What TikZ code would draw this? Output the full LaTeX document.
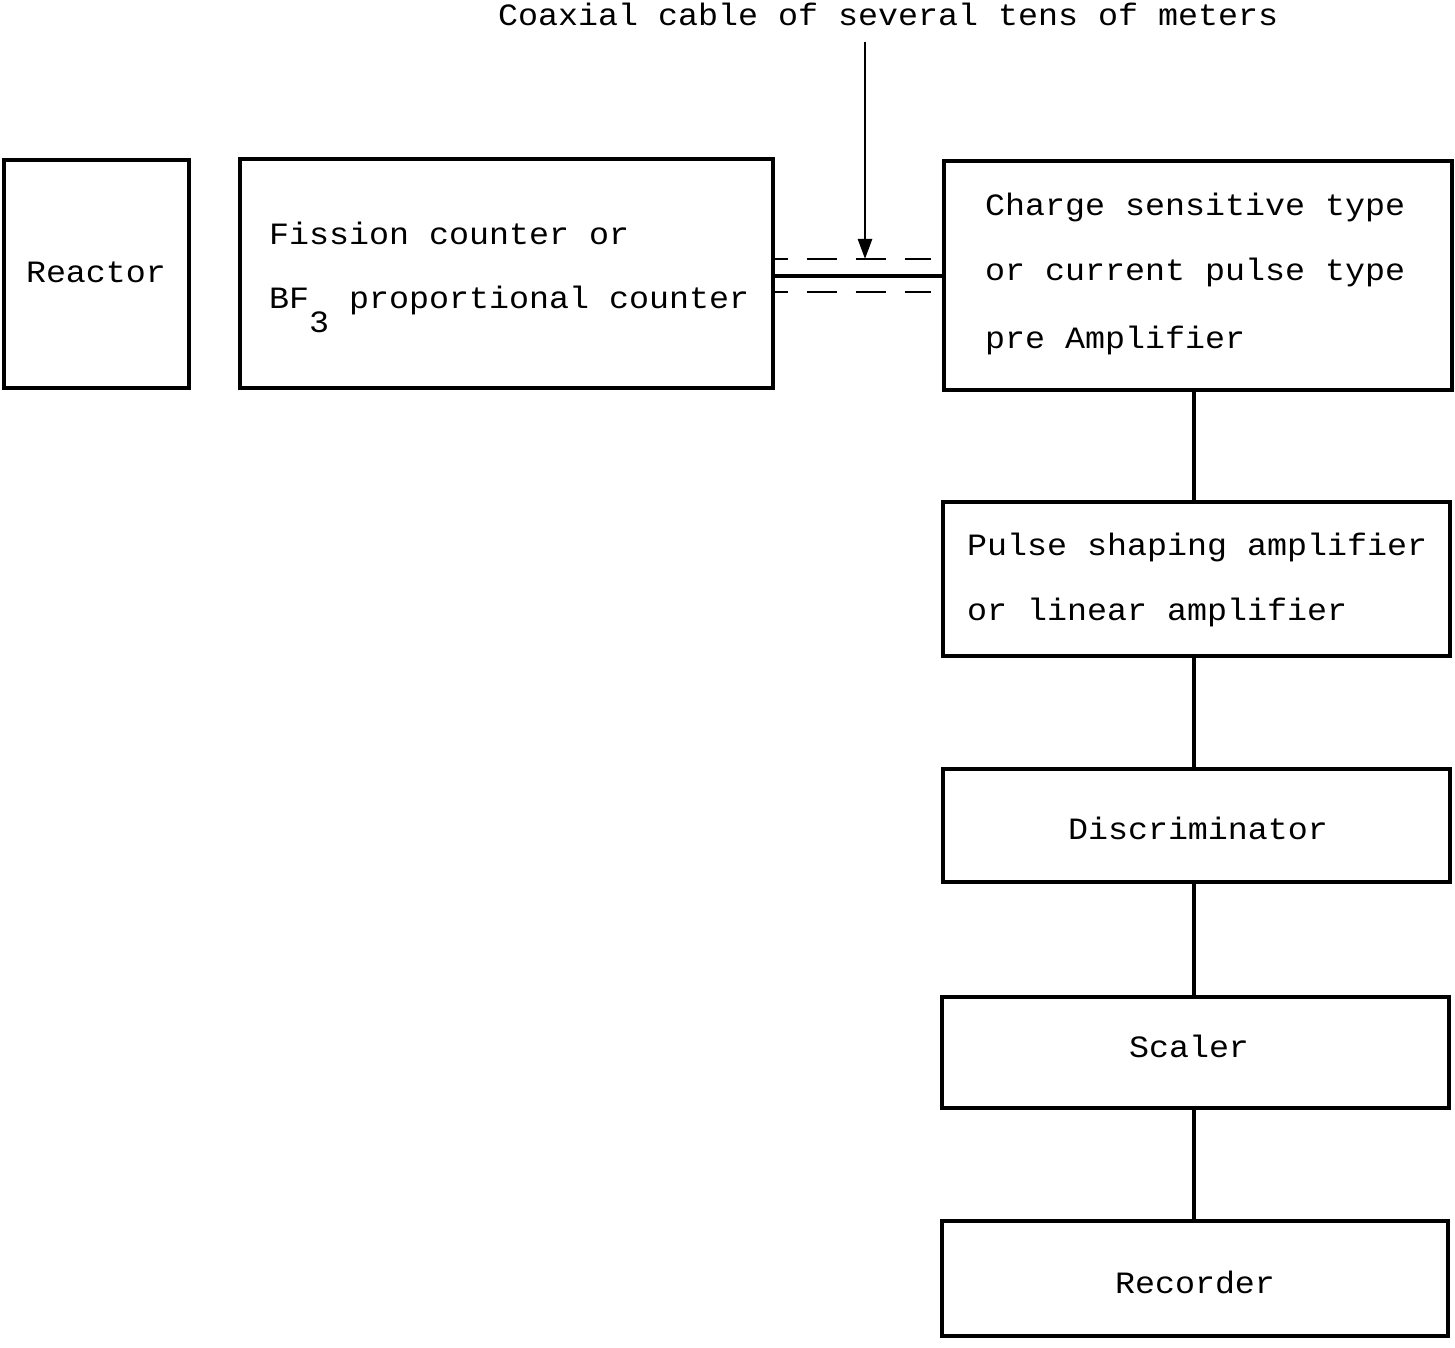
\documentclass[tikz,border=0pt]{standalone}
\usepackage{fontspec}
\setmonofont{Liberation Mono}
\usetikzlibrary{arrows.meta}
\newcommand{\wtxt}[1]{\scalebox{1.075}[1]{#1}}
\begin{document}
\begin{tikzpicture}[x=1pt,y=-1pt,
  box/.style={draw,line width=3.2pt,rectangle,inner sep=0pt},
  txt/.style={inner sep=0pt,font=\ttfamily\fontsize{31}{38}\selectfont},
  wire/.style={line width=3.2pt},
  dsh/.style={line width=2.6pt,dash pattern=on 30pt off 19pt,dash phase=17pt}]
\useasboundingbox[fill=white] (0,0) rectangle (1455,1348);
% boxes
\node[box,minimum width=185pt,minimum height=228pt] (reactor) at (96.5,274) {};
\node[box,minimum width=533pt,minimum height=229pt] (fission) at (506.5,273.5) {};
\node[box,minimum width=508pt,minimum height=229pt] (pre) at (1198,275.5) {};
\node[box,minimum width=507pt,minimum height=154pt] (pulse) at (1196.5,579) {};
\node[box,minimum width=507pt,minimum height=113pt] (disc) at (1196.5,825.5) {};
\node[box,minimum width=507pt,minimum height=111pt] (scaler) at (1195.5,1052.5) {};
\node[box,minimum width=506pt,minimum height=115pt] (rec) at (1195,1278.5) {};
% texts
\node[txt,anchor=base west] (top) at (498,26) {\wtxt{Coaxial cable of several tens of meters}};
\node[txt,anchor=base] (treactor) at (96,282) {\wtxt{Reactor}};
\node[txt,anchor=base west] (tf1) at (269,244) {\wtxt{Fission counter or}};
\node[txt,anchor=base west] (tf2) at (269,308) {\wtxt{BF\raisebox{-24pt}{3} proportional counter}};
\node[txt,anchor=base west] (tp1) at (985,216) {\wtxt{Charge sensitive type}};
\node[txt,anchor=base west] (tp2) at (985,280) {\wtxt{or current pulse type}};
\node[txt,anchor=base west] (tp3) at (985,348) {\wtxt{pre Amplifier}};
\node[txt,anchor=base west] (ts1) at (967,555) {\wtxt{Pulse shaping amplifier}};
\node[txt,anchor=base west] (ts2) at (967,620) {\wtxt{or linear amplifier}};
\node[txt,anchor=base] (tdisc) at (1198,839) {\wtxt{Discriminator}};
\node[txt,anchor=base] (tscaler) at (1189,1057) {\wtxt{Scaler}};
\node[txt,anchor=base] (trec) at (1195,1293) {\wtxt{Recorder}};
% cable
\coordinate (ymid) at (0,276);
\coordinate (yup) at (0,259);
\coordinate (ylow) at (0,292);
\coordinate (dend) at (931,0);
\draw[wire] (fission.east |- ymid) -- (pre.west |- ymid);
\draw[dsh] (fission.east |- yup) -- (dend |- yup);
\draw[dsh] (fission.east |- ylow) -- (dend |- ylow);
% arrow
\coordinate (atop) at (865,42);
\coordinate (atip) at (865,259);
\draw[wire,line width=2.6pt,-{Triangle[length=20pt,width=14pt]}] (atop) -- (atip);
% chain
\coordinate (xc) at (1194,0);
\draw[wire] (pre.south -| xc) -- (pulse.north -| xc);
\draw[wire] (pulse.south -| xc) -- (disc.north -| xc);
\draw[wire] (disc.south -| xc) -- (scaler.north -| xc);
\draw[wire] (scaler.south -| xc) -- (rec.north -| xc);
\end{tikzpicture}
\end{document}
